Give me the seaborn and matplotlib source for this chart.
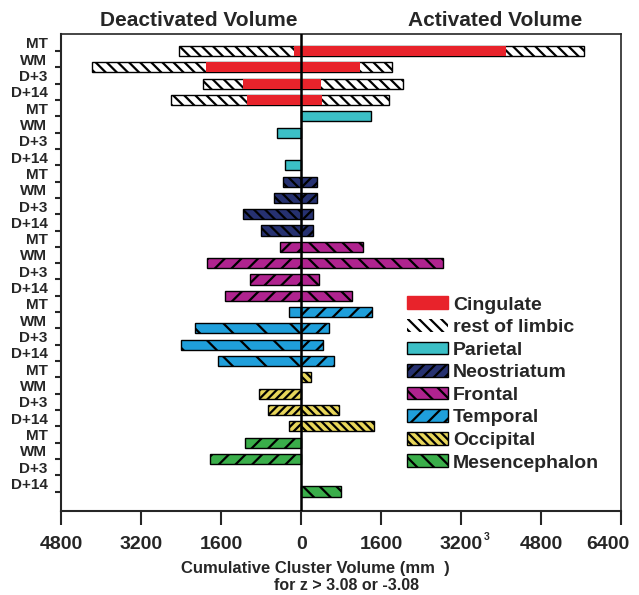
import numpy as np
import pandas as pd

import seaborn as sns
import matplotlib.pyplot as plt
from matplotlib.patches import Patch
from matplotlib.transforms import ScaledTranslation

sns.set_style("ticks")
plt.rcParams['font.family'] = ['Liberation Sans', 'DejaVu Sans']
plt.rcParams['font.weight'] = 'bold'
plt.rcParams['hatch.linewidth'] = 1.6

# row labels, repeated for every region
sessions = ['MT', 'WM', 'D+3', 'D+14']

# regions (top to bottom) with colours
regions = ['Limbic', 'Parietal', 'Neostriatum', 'Frontal', 'Temporal', 'Occipital', 'Mesencephalon']
colors = ['#e8232b', '#3bbfc6', '#263170', '#b0238f', '#1f9fdb', '#e8d65a', '#3aae4a']

# deactivated (left) and activated (right) volumes, mm3, per session
cingulate_deact = [-140, -1900, -1160, -1090]
cingulate_act = [4090, 1180, 390, 410]
limbic_total_deact = [-2440, -4190, -1960, -2610]
limbic_total_act = [5660, 1820, 2040, 1760]

deact = {
    'Parietal': [0, -490, 0, -330],
    'Neostriatum': [-360, -540, -1160, -800],
    'Frontal': [-430, -1890, -1020, -1520],
    'Temporal': [-240, -2130, -2410, -1670],
    'Occipital': [0, -840, -670, -240],
    'Mesencephalon': [-1130, -1820, 0, 0],
}
act = {
    'Parietal': [1390, 0, 0, 0],
    'Neostriatum': [310, 320, 240, 240],
    'Frontal': [1240, 2840, 360, 1010],
    'Temporal': [1410, 560, 430, 650],
    'Occipital': [190, 0, 760, 1450],
    'Mesencephalon': [0, 0, 0, 790],
}

# hatches for left / right side
hatch_left = {'Parietal': '-', 'Neostriatum': '\\\\\\', 'Frontal': '//', 'Temporal': '\\',
              'Occipital': '////', 'Mesencephalon': '//'}
hatch_right = {'Parietal': '-', 'Neostriatum': '///', 'Frontal': '\\\\', 'Temporal': '//',
               'Occipital': '\\\\\\\\', 'Mesencephalon': '\\\\'}

xticks = [-4800, -3200, -1600, 0, 1600, 3200, 4800, 6400]

rows = [str(i) for i in range(len(regions) * len(sessions))]

fig = plt.figure(figsize=(6.39, 5.95), dpi=100)
ax = fig.add_axes([0.096, 0.141, 0.876, 0.802])


def draw(values, offset, color, hatch, edge='black', lw=1.0):
    df = pd.DataFrame({'row': rows[offset:offset + 4], 'vol': values})
    df = df[df['vol'] != 0]
    n_before = len(ax.patches)
    sns.barplot(data=df, x='vol', y='row', order=rows, orient='h', color=color,
                width=0.62, saturation=1, edgecolor=edge, linewidth=lw, ax=ax)
    for p in ax.patches[n_before:]:
        if hatch:
            p.set_hatch(hatch)


# limbic: hatched total then red cingulate on top
draw(limbic_total_deact, 0, 'white', '\\\\\\')
draw(limbic_total_act, 0, 'white', '\\\\\\')
draw(cingulate_deact, 0, colors[0], None, edge=colors[0], lw=0)
draw(cingulate_act, 0, colors[0], None, edge=colors[0], lw=0)

for k, reg in enumerate(regions[1:], start=1):
    draw(deact[reg], 4 * k, colors[k], hatch_left[reg])
    draw(act[reg], 4 * k, colors[k], hatch_right[reg])

ax.axvline(0, color='black', linewidth=1.8, zorder=5)

ax.set_xlim(-4800, 6400)
ax.set_ylim(28.2, -1.05)
ax.set_xticks(xticks)
ax.set_xticklabels([str(abs(v)) for v in xticks], fontsize=14, fontweight='bold')
ax.tick_params(axis='x', length=10, width=1.5, pad=8)
last = ax.get_xticklabels()[-1]
last.set_transform(last.get_transform() + ScaledTranslation(-0.13, 0, fig.dpi_scale_trans))

ax.set_yticks(range(len(rows)))
ax.set_yticklabels([])
ax.set_yticks(np.arange(len(rows)) - 0.5, minor=True)
ax.set_yticklabels(sessions * len(regions), minor=True, fontsize=11, fontweight='bold')
ax.tick_params(axis='y', which='major', length=4, width=1.5)
ax.tick_params(axis='y', which='minor', length=0, pad=10)

ax.set_ylabel('')
ax.set_xlabel('')

for s in ['left', 'bottom']:
    ax.spines[s].set_linewidth(1.5)
ax.spines['top'].set_linewidth(1.2)
ax.spines['right'].set_linewidth(1.2)

fig.text(0.311, 0.966, 'Deactivated Volume', ha='center', va='center', fontsize=15, fontweight='bold')
fig.text(0.775, 0.966, 'Activated Volume', ha='center', va='center', fontsize=15, fontweight='bold')

# axis title, with the unit exponent sitting up beside the 3200 label as in the original
fig.text(0.493, 1 - 568 / 595, 'Cumulative Cluster Volume (mm  )', ha='center', va='center',
         fontsize=12, fontweight='bold')
fig.text(0.543, 1 - 585 / 595, 'for z > 3.08 or -3.08', ha='center', va='center',
         fontsize=11.5, fontweight='bold')
fig.text(0.761, 1 - 537 / 595, '3', ha='center', va='center', fontsize=7.5, fontweight='bold')

handles = [Patch(facecolor=colors[0], edgecolor=colors[0], label='Cingulate'),
           Patch(facecolor='white', edgecolor='black', hatch='\\\\\\', linewidth=0, label='rest of limbic')]
for k, reg in enumerate(regions[1:], start=1):
    handles.append(Patch(facecolor=colors[k], edgecolor='black', hatch=hatch_right[reg], label=reg))
ax.legend(handles=handles, loc='upper left', bbox_to_anchor=(0.617, 0.45), frameon=False,
          borderaxespad=0, borderpad=0,
          handlelength=2.1, handleheight=0.62, labelspacing=0.28, handletextpad=0.28,
          prop={'weight': 'bold', 'size': 14})

plt.savefig('out.png', dpi=100)
